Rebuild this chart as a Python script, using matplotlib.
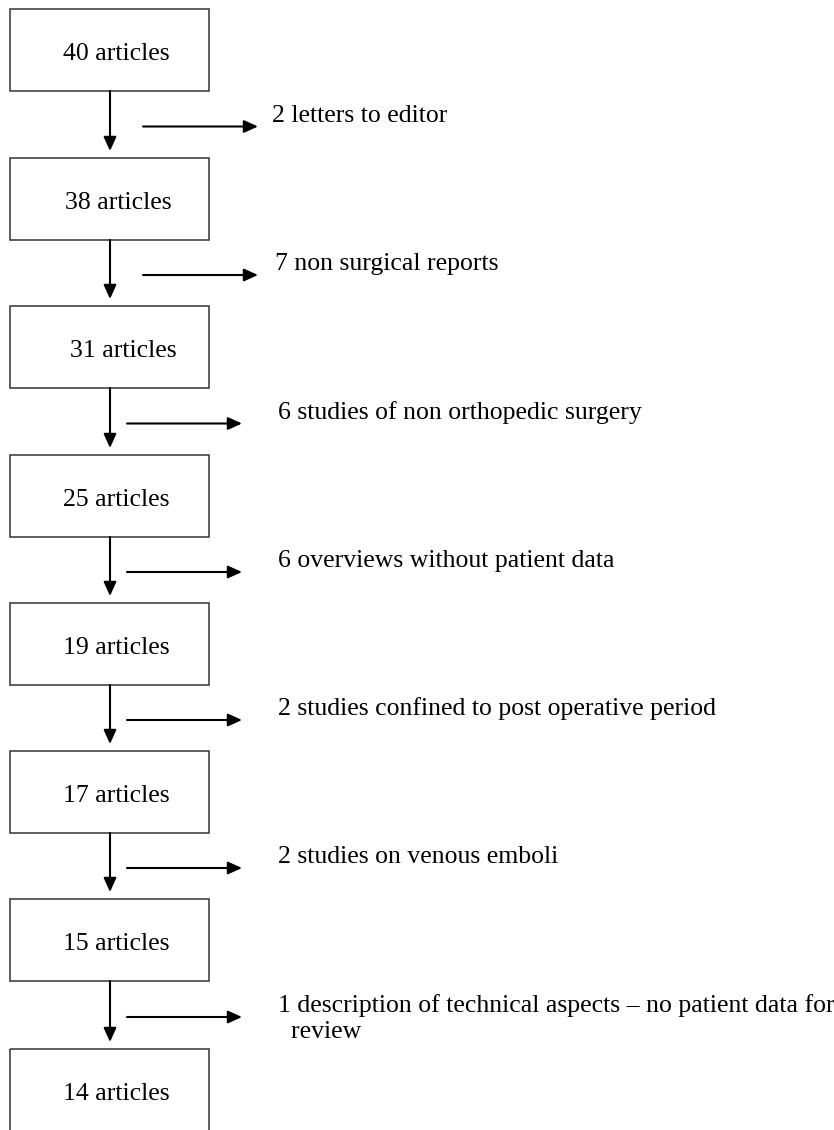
import matplotlib.pyplot as plt
from matplotlib.patches import Rectangle

# flow chart data
counts = [40, 38, 31, 25, 19, 17, 15, 14]
reasons = ["2 letters to editor",
           "7 non surgical reports",
           "6 studies of non orthopedic surgery",
           "6 overviews without patient data",
           "2 studies confined to post operative period",
           "2 studies on venous emboli",
           "1 description of technical aspects \u2013 no patient data for\n  review"]

plt.rcParams['font.family'] = ['Liberation Serif', 'DejaVu Serif']

fig = plt.figure(figsize=(8.34, 11.30), dpi=100)
ax = fig.add_axes([0, 0, 1, 1])
ax.set_xlim(0, 834)
ax.set_ylim(1130, 0)
ax.axis('off')

box_x, box_w, box_h = 10, 199, 82
tops = [9, 158, 306, 455, 603, 751, 899, 1049]
text_x = [63, 65, 70, 63, 63, 63, 63, 63]
arr_x0 = [143, 143, 127, 127, 127, 127, 127]
arr_x1 = [258, 258, 242, 242, 242, 242, 242]
lab_x = [272, 275, 278, 278, 278, 278, 278]

for i, n in enumerate(counts):
    h = box_h if i < len(counts) - 1 else 1130 - tops[i] + 5
    ax.add_patch(Rectangle((box_x, tops[i]), box_w, h, fill=False,
                           ec='#333333', lw=1.1))
    ax.text(text_x[i], tops[i] + 45, f"{n} articles", fontsize=18.5,
            va='center', ha='left')

arrow = dict(arrowstyle='-|>,head_length=0.42,head_width=0.19', color='black',
             lw=1.5, mutation_scale=20, shrinkA=0, shrinkB=0)

for i, r in enumerate(reasons):
    y0 = tops[i] + box_h
    y1 = tops[i + 1]
    ax.annotate('', xy=(110, y1 - 7), xytext=(110, y0), arrowprops=arrow)
    ym = (y0 + y1) / 2 + 2
    ax.annotate('', xy=(arr_x1[i], ym), xytext=(arr_x0[i], ym),
                arrowprops=arrow)
    for k, line in enumerate(r.split('\n')):
        ax.text(lab_x[i], ym - 11 + 26 * k, line, fontsize=18.5,
                va='center', ha='left')

plt.savefig('out.png', dpi=100)
